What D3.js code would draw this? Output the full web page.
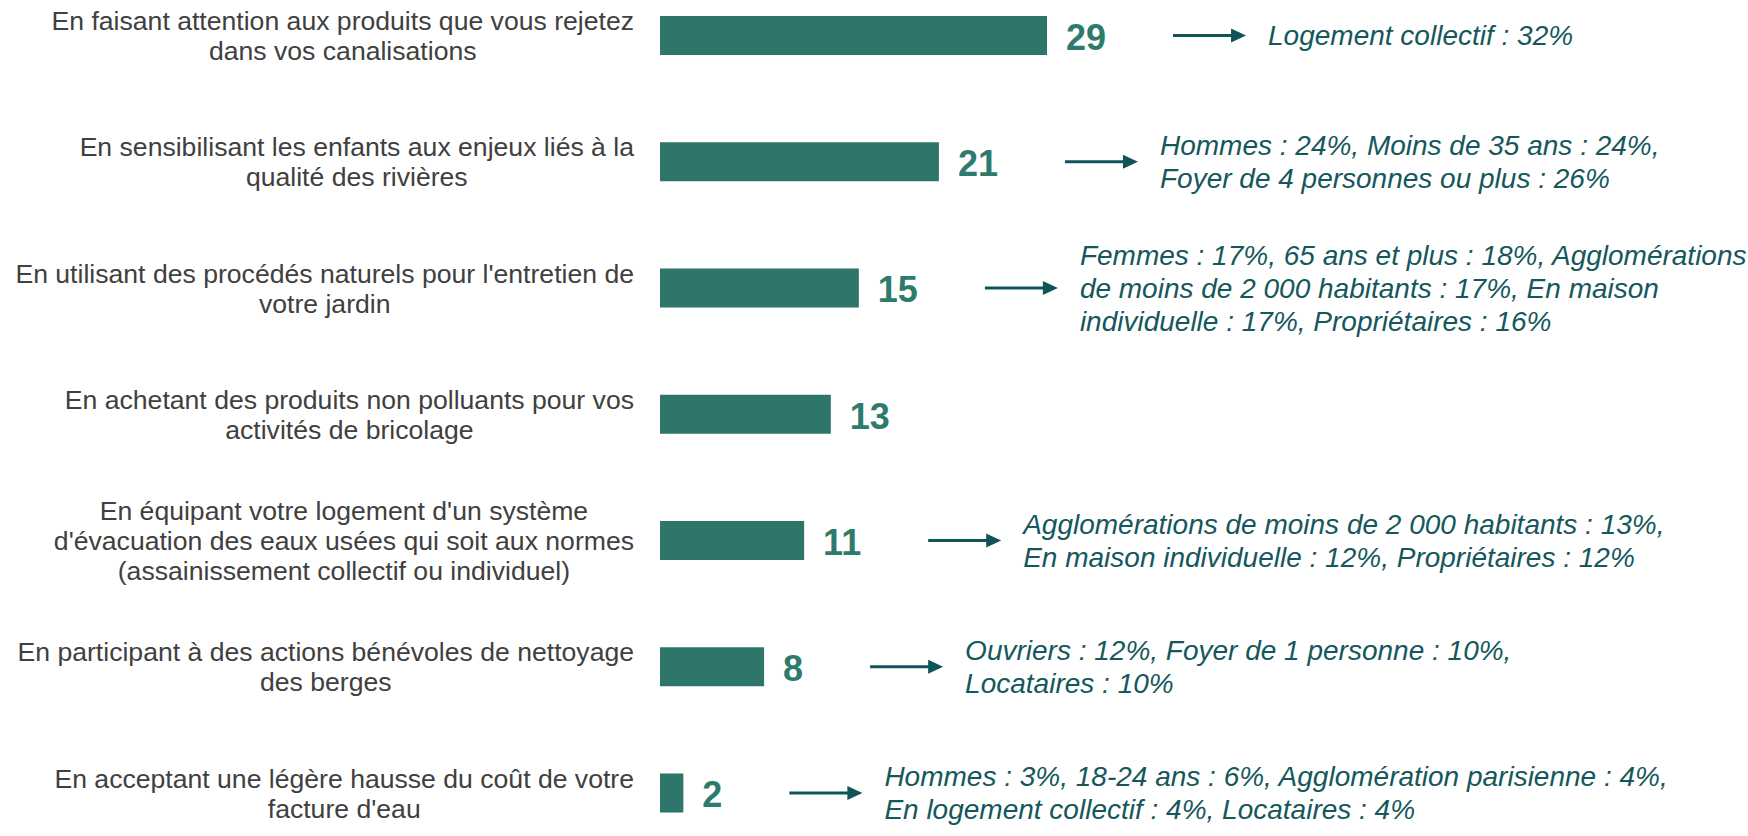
<!DOCTYPE html>
<html>
<head>
<meta charset="utf-8">
<script src="https://cdn.jsdelivr.net/npm/d3@7"></script>
<style>
	body { margin: 0; background: #FFFFFF; }
</style>
</head>
<body>
<div id="chart"></div>
<script>
// Category labels (already broken in lines as in the picture)
const categories = [
	['En faisant attention aux produits que vous rejetez', 'dans vos canalisations'],
	['En sensibilisant les enfants aux enjeux liés à la', 'qualité des rivières'],
	["En utilisant des procédés naturels pour l'entretien de", 'votre jardin'],
	['En achetant des produits non polluants pour vos', 'activités de bricolage'],
	["En équipant votre logement d'un système", "d'évacuation des eaux usées qui soit aux normes", '(assainissement collectif ou individuel)'],
	['En participant à des actions bénévoles de nettoyage', 'des berges'],
	['En acceptant une légère hausse du coût de votre', "facture d'eau"]
];

// Values (%); labels show them rounded
const values = [29.0, 20.9, 14.9, 12.8, 10.8, 7.8, 1.75];

// Sub-group comments shown after the arrow (empty = no arrow)
const notes = [
	['Logement collectif : 32%'],
	['Hommes : 24%, Moins de 35 ans : 24%,', 'Foyer de 4 personnes ou plus : 26%'],
	['Femmes : 17%, 65 ans et plus : 18%, Agglomérations', 'de moins de 2 000 habitants : 17%, En maison', 'individuelle : 17%, Propriétaires : 16%'],
	[],
	['Agglomérations de moins de 2 000 habitants : 13%,', 'En maison individuelle : 12%, Propriétaires : 12%'],
	['Ouvriers : 12%, Foyer de 1 personne : 10%,', 'Locataires : 10%'],
	['Hommes : 3%, 18-24 ans : 6%, Agglomération parisienne : 4%,', 'En logement collectif : 4%, Locataires : 4%']
];

const width = 1748,
	height = 836,
	barHeight = 39,
	font = '"Liberation Sans", Arial, sans-serif';

const barColor = '#2E756A',
	valueColor = '#2E7A6C',
	noteColor = '#15585C',
	arrowColor = '#0F5458',
	labelColor = '#404040';

const fmt = d3.format('.0f');

const svg = d3.select('#chart').append('svg')
	.attr('width', width)
	.attr('height', height)
	.style('font-family', font);

const idx = d3.range(values.length);

const x = d3.scaleLinear()
	.domain([0, 29])
	.range([660, 1047]);

const y = d3.scalePoint()
	.domain(idx)
	.range([35.5, 793]);

// Bars
svg.selectAll('.bar')
	.data(idx)
	.enter()
	  .append('rect')
		.attr('class', 'bar')
		.attr('x', x(0))
		.attr('y', i => y(i) - barHeight / 2)
		.attr('width', i => x(values[i]) - x(0))
		.attr('height', barHeight)
		.style('fill', barColor);

// Category labels: block right aligned on the axis, lines centered in it
const labelRight = 634,
	labelLine = 30;

idx.forEach(i => {
	const lines = categories[i];
	const t = svg.append('text')
		.style('font-size', '26.6px')
		.style('fill', labelColor)
		.attr('text-anchor', 'middle');
	const spans = t.selectAll('tspan')
		.data(lines)
		.enter()
		  .append('tspan')
			.attr('y', (d, k) => y(i) + (k - (lines.length - 1) / 2) * labelLine)
			.attr('dy', '0.36em')
			.text(d => d);
	let maxW = 0;
	spans.each(function() { maxW = Math.max(maxW, this.getComputedTextLength()); });
	spans.attr('x', labelRight - maxW / 2);
});

// Values, arrows and notes
const noteLine = 33;

idx.forEach(i => {
	const vx = x(values[i]) + 19;
	const v = svg.append('text')
		.attr('x', vx)
		.attr('y', y(i))
		.attr('dy', '0.4em')
		.style('font-size', '36px')
		.style('font-weight', 'bold')
		.style('fill', valueColor)
		.text(fmt(values[i]));

	if (!notes[i].length) return;

	const ax0 = vx + v.node().getComputedTextLength() + 67,
		ax1 = ax0 + 73,
		ay = y(i);

	svg.append('line')
		.attr('x1', ax0)
		.attr('x2', ax1 - 12)
		.attr('y1', ay)
		.attr('y2', ay)
		.style('stroke', arrowColor)
		.style('stroke-width', 3);

	svg.append('path')
		.attr('d', 'M' + (ax1 - 15) + ',' + (ay - 7) + 'L' + ax1 + ',' + ay + 'L' + (ax1 - 15) + ',' + (ay + 7) + 'Z')
		.style('fill', arrowColor);

	const lines = notes[i];
	svg.append('text')
		.style('font-size', '28px')
		.style('font-style', 'italic')
		.style('fill', noteColor)
	  .selectAll('tspan')
		.data(lines)
		.enter()
		  .append('tspan')
			.attr('x', ax1 + 22)
			.attr('y', (d, k) => ay + (k - (lines.length - 1) / 2) * noteLine)
			.attr('dy', '0.35em')
			.text(d => d);
});
</script>
</body>
</html>
